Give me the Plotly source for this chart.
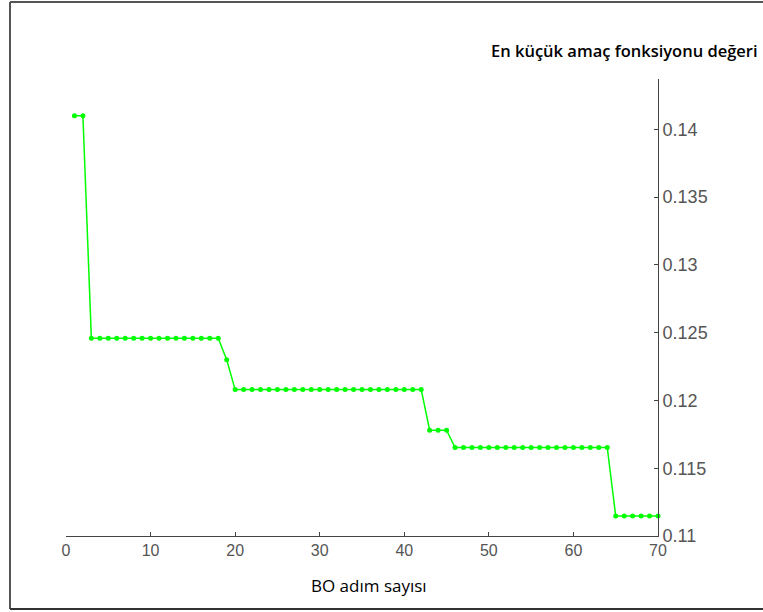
import plotly.graph_objects as go

# Data: best objective value at each BO step
steps = list(range(1, 71))
levels = [
    (2, 0.1410),
    (16, 0.12458),
    (1, 0.1230),
    (23, 0.1208),
    (3, 0.1178),
    (19, 0.11653),
    (6, 0.11148),
]
min_values = []
for count, val in levels:
    min_values += [val] * count

x_ticks = [0, 10, 20, 30, 40, 50, 60, 70]
y_ticks = [0.11, 0.115, 0.12, 0.125, 0.13, 0.135, 0.14]
y_tick_labels = ["0.11", "0.115", "0.12", "0.125", "0.13", "0.135", "0.14"]

x_title = "BO adım sayısı"
y_title = "En küçük amaç fonksiyonu değeri"

W, H = 763, 612
L, R, T, B = 66, 105, 79, 76
pw = W - L - R
ph = H - T - B

fig = go.Figure()
fig.add_trace(go.Scatter(
    x=steps, y=min_values, mode="lines+markers",
    line=dict(color="#00ff00", width=1.5),
    marker=dict(color="#00ff00", size=5),
    showlegend=False, cliponaxis=False,
))

axis_color = "#444444"
fig.update_layout(
    width=W, height=H,
    margin=dict(l=L, r=R, t=T, b=B, pad=0),
    paper_bgcolor="white", plot_bgcolor="white",
    xaxis=dict(
        range=[0, 70], tickvals=x_ticks, ticks="inside", ticklen=4,
        tickcolor=axis_color, showline=True, linecolor=axis_color, linewidth=1,
        showgrid=False, zeroline=False,
        tickfont=dict(family="Liberation Sans Narrow, Arial Narrow, Liberation Sans", size=16, color="#555555"),
    ),
    yaxis=dict(
        range=[0.11, 0.14371], side="right", tickvals=y_ticks, ticktext=y_tick_labels,
        ticks="inside", ticklen=4, tickcolor=axis_color, showline=True,
        linecolor=axis_color, linewidth=1, showgrid=False, zeroline=False,
        tickfont=dict(family="Liberation Sans, Arial", size=18, color="#555555"),
    ),
    annotations=[
        dict(text=x_title, xref="paper", yref="paper", x=(369 - L) / pw,
             y=-(585 - (H - B)) / ph, xanchor="center", yanchor="middle",
             showarrow=False, font=dict(family="Open Sans", size=17, color="black", weight=500)),
        dict(text=y_title, xref="paper", yref="paper", x=(624 - L) / pw,
             y=1 + (T - 50) / ph, xanchor="center", yanchor="middle",
             showarrow=False, font=dict(family="Open Sans", size=16.5, color="black", weight=600)),
    ],
    shapes=[
        dict(type="line", xref="paper", yref="paper",
             x0=(10 - L) / pw, x1=(10 - L) / pw, y0=-(609 - (H - B)) / ph, y1=1 + (T - 2) / ph,
             line=dict(color="#555555", width=2)),
        dict(type="line", xref="paper", yref="paper",
             x0=(10 - L) / pw, x1=(763 - L) / pw, y0=1 + (T - 2) / ph, y1=1 + (T - 2) / ph,
             line=dict(color="#555555", width=2)),
        dict(type="line", xref="paper", yref="paper",
             x0=(10 - L) / pw, x1=(763 - L) / pw, y0=-(609 - (H - B)) / ph, y1=-(609 - (H - B)) / ph,
             line=dict(color="#333333", width=2)),
    ],
)

fig.write_html(
    "out.html", config={"displayModeBar": False},
    post_script=("document.documentElement.style.overflow='hidden';"
                 "document.body.style.margin='0';document.body.style.overflow='hidden';"),
)
